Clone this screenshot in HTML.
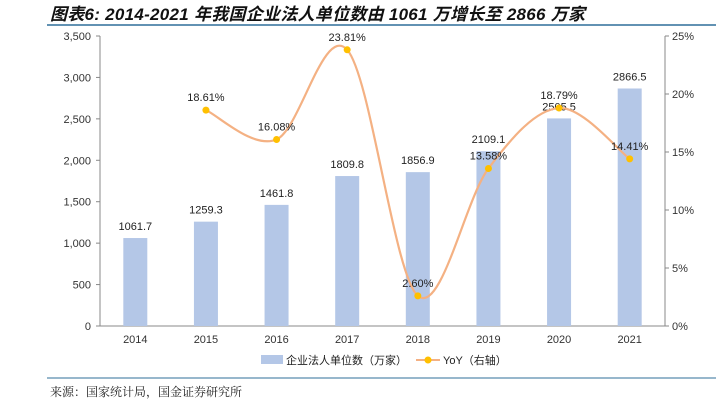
<!DOCTYPE html>
<html><head><meta charset="utf-8"><style>
body{margin:0;background:#fff;width:716px;height:403px;overflow:hidden;font-family:"Liberation Sans","Noto Sans CJK SC",sans-serif}
svg{position:absolute;left:0;top:0}
</style></head><body>
<svg width="716" height="403" id="c">
<text x="50" y="20" font-size="17" font-weight="bold" font-style="italic" fill="#111" textLength="535" lengthAdjust="spacing">图表6:  2014-2021 年我国企业法人单位数由 1061 万增长至 2866 万家</text>
<line x1="47" y1="25" x2="716" y2="25" stroke="#2f6f9a" stroke-width="1.5"/>
<line x1="47" y1="378" x2="716" y2="378" stroke="#2f6f9a" stroke-width="1"/>
<text x="50" y="396" font-size="12" fill="#222" font-family="'Noto Serif CJK SC',serif">来源：国家统计局，国金证券研究所</text>
<g id="g"></g>
</svg>
<script>
const categories=["2014","2015","2016","2017","2018","2019","2020","2021"];
const units=[1061.7,1259.3,1461.8,1809.8,1856.9,2109.1,2505.5,2866.5];
const yoy=[null,18.61,16.08,23.81,2.60,13.58,18.79,14.41];
const leftTicks=[0,500,1000,1500,2000,2500,3000,3500];
const rightTicks=[0,5,10,15,20,25];
const L=100,R=665,T=36,B=326;
const ns="http://www.w3.org/2000/svg",g=document.getElementById('g');
function el(t,a,txt){const e=document.createElementNS(ns,t);for(const k in a)e.setAttribute(k,a[k]);if(txt!=null)e.textContent=txt;g.appendChild(e);return e;}
const bw=(R-L)/categories.length;
const x=i=>L+bw*(i+0.5);
const yL=v=>B-(v/3500)*(B-T);
const yR=v=>B-(v/25)*(B-T);
let e;
e=el('line',{x1:L,y1:T,x2:L,y2:B,stroke:'#888'});


e=el('line',{x1:R,y1:T,x2:R,y2:B,stroke:'#888'});


e=el('line',{x1:L,y1:B,x2:R,y2:B,stroke:'#888'});


leftTicks.forEach(v=>{
 el('line',{x1:L-4,y1:yL(v),x2:L,y2:yL(v),stroke:'#888'});
 e=el('text',{x:L-9,y:yL(v)+4,'font-size':11,'text-anchor':'end',fill:'#333'},v.toLocaleString('en-US'));
 
 
});
rightTicks.forEach(v=>{
 el('line',{x1:R,y1:yR(v),x2:R+4,y2:yR(v),stroke:'#888'});
 e=el('text',{x:R+7,y:yR(v)+4,'font-size':11,fill:'#333'},v+'%');
 
 
});
categories.forEach((c,i)=>{
 e=el('text',{x:x(i),y:B+17,'font-size':11,'text-anchor':'middle',fill:'#333'},c);
 
 
 e=el('rect',{x:x(i)-12,y:yL(units[i]),width:24,height:B-yL(units[i]),fill:'#b4c7e7'});
 
 
 e=el('text',{x:x(i),y:yL(units[i])-8,'font-size':11,'text-anchor':'middle',fill:'#222'},units[i].toFixed(1));
 
 
});
const pts=[];yoy.forEach((v,i)=>{if(v!=null)pts.push([x(i),yR(v),v]);});
let d='M'+pts[0][0]+','+pts[0][1];
for(let i=0;i<pts.length-1;i++){
 const p0=pts[Math.max(0,i-1)],p1=pts[i],p2=pts[i+1],p3=pts[Math.min(pts.length-1,i+2)];
 d+=` C${p1[0]+(p2[0]-p0[0])/6},${p1[1]+(p2[1]-p0[1])/6} ${p2[0]-(p3[0]-p1[0])/6},${p2[1]-(p3[1]-p1[1])/6} ${p2[0]},${p2[1]}`;
}
e=el('path',{d:d,fill:'none',stroke:'#f4b183','stroke-width':2.2});


pts.forEach(p=>{
 e=el('circle',{cx:p[0],cy:p[1],r:3.5,fill:'#ffc000'});
 
 
 e=el('text',{x:p[0],y:p[1]-9,'font-size':11,'text-anchor':'middle',fill:'#222'},p[2].toFixed(2)+'%');
 
 
});
e=el('rect',{x:261,y:355,width:22,height:9,fill:'#b4c7e7'});


e=el('text',{x:286,y:364,'font-size':11,fill:'#222'},'企业法人单位数（万家）');


el('line',{x1:416,y1:360,x2:440,y2:360,stroke:'#f4b183','stroke-width':2});
e=el('circle',{cx:428,cy:360,r:3.5,fill:'#ffc000'});


e=el('text',{x:443,y:364,'font-size':11,fill:'#222'},'YoY（右轴）');


</script>
</body></html>
